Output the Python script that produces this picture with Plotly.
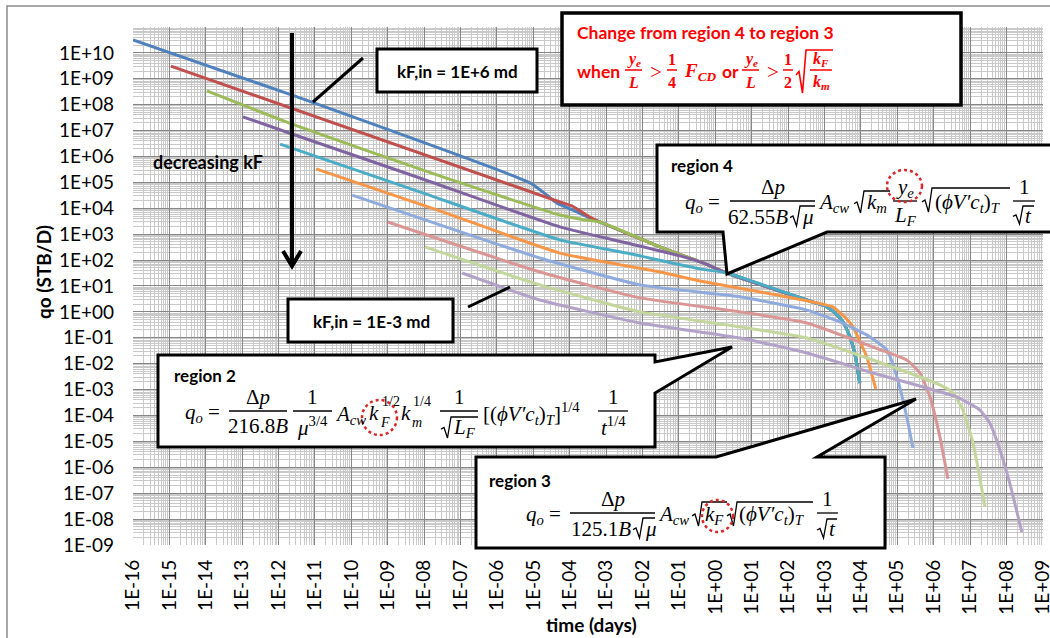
import plotly.graph_objects as go

# ---------------------------------------------------------------------------
# Oil rate qo (STB/D) versus time (days), one curve per initial fracture
# permeability kF,in (md).
# ---------------------------------------------------------------------------
kf_in = ["1E+6", "1E+5", "1E+4", "1E+3", "1E+2", "1E+1", "1E+0", "1E-1", "1E-2", "1E-3"]

t_kf_1e6 = [1.0e-16, 3.24e-12, 8.13e-6, 2.34e-5, 4.47e-5, 1.23e-4, 3.16e-4, 6.8e-4, 3.0e-2, 0.457, 2.09,
            479, 1023, 1950, 3236, 5012, 6918, 9333]
q_kf_1e6 = [3.16e10, 2.0e8, 9.55e4, 3.24e4, 1.58e4, 8.51e3, 4.57e3, 2950, 324, 77.6, 31.6,
            2.40, 1.70, 0.912, 0.407, 0.107, 0.0219, 1.78e-3]

t_kf_1e5 = [1.10e-15, 5.37e-5, 1.15e-4, 3.16e-4, 6.8e-4, 3.0e-2, 0.457, 2.09,
            479, 1023, 1950, 3236, 5012, 6918, 9333]
q_kf_1e5 = [3.09e9, 1.74e4, 1.23e4, 5.01e3, 2950, 324, 77.6, 31.6,
            2.40, 1.70, 0.912, 0.407, 0.107, 0.0219, 1.78e-3]

t_kf_1e4 = [1.07e-14, 2.34e-12, 2.69e-8, 5.37e-5, 2.63e-4, 6.8e-4, 3.0e-2, 0.457, 2.09,
            479, 1023, 1950, 3236, 5012, 6918, 9333]
q_kf_1e4 = [3.39e8, 1.78e7, 1.78e5, 5.50e3, 3.55e3, 2950, 324, 77.6, 31.6,
            2.40, 1.70, 0.912, 0.407, 0.107, 0.0219, 1.78e-3]

t_kf_1e3 = [1.05e-13, 2.34e-12, 7.59e-9, 5.37e-5, 3.72e-3, 0.107, 0.457, 2.09,
            479, 1023, 1950, 3236, 5012, 6918, 9333]
q_kf_1e3 = [3.39e7, 7.41e6, 1.48e5, 1.91e3, 457, 145, 77.6, 31.6,
            2.40, 1.70, 0.912, 0.407, 0.107, 0.0219, 1.78e-3]

t_kf_1e2 = [1.10e-12, 7.59e-9, 5.37e-5, 3.72e-3, 0.380, 2.09,
            479, 1023, 1950, 3236, 5012, 6918, 9333]
q_kf_1e2 = [3.02e6, 4.27e4, 603, 186, 45.7, 31.6,
            2.40, 1.70, 0.912, 0.407, 0.107, 0.0219, 1.78e-3]

t_kf_1e1 = [1.07e-11, 2.69e-8, 5.37e-5, 3.02e-2, 0.380, 17.0, 479, 1698, 3631, 6026, 14454, 25704]
q_kf_1e1 = [3.31e5, 7.94e3, 186, 34.7, 15.5, 5.89, 2.40, 1.55, 0.631, 0.263, 0.0182, 1.05e-3]

t_kf_1e0 = [1.05e-10, 1.51e-5, 8.51e-3, 4.79, 331, 2630, 14454, 51286, 97724, 1.82e5, 2.69e5]
q_kf_1e0 = [3.24e4, 120, 11.0, 3.80, 1.17, 0.407, 0.129, 0.0339, 3.09e-3, 8.71e-5, 5.50e-6]

t_kf_1em1 = [1.0e-9, 1.51e-5, 8.51e-3, 4.79, 331, 21380, 1.82e5, 4.17e5, 7.94e5, 1.48e6, 2.45e6]
q_kf_1em1 = [2950, 34.7, 3.47, 1.00, 0.372, 0.0437, 0.0138, 4.37e-3, 5.13e-4, 1.48e-5, 3.55e-7]

t_kf_1em2 = [1.05e-8, 1.51e-5, 8.51e-3, 4.79, 331, 21380, 1.48e6, 3.39e6, 6.31e6, 1.20e7, 2.57e7]
q_kf_1em2 = [324, 11.0, 1.00, 0.263, 0.0977, 0.0138, 1.51e-3, 7.41e-4, 1.62e-4, 8.71e-6, 2.95e-8]

t_kf_1em3 = [1.10e-7, 1.51e-5, 8.51e-3, 4.79, 331, 21380, 4.37e6, 1.86e7, 3.47e7, 6.61e7, 1.23e8, 2.63e8]
q_kf_1em3 = [31.6, 2.88, 0.372, 0.0977, 0.0257, 4.37e-3, 5.13e-4, 1.62e-4, 5.13e-5, 4.68e-6, 2.45e-7, 3.16e-9]

times = [t_kf_1e6, t_kf_1e5, t_kf_1e4, t_kf_1e3, t_kf_1e2, t_kf_1e1, t_kf_1e0, t_kf_1em1, t_kf_1em2, t_kf_1em3]
rates = [q_kf_1e6, q_kf_1e5, q_kf_1e4, q_kf_1e3, q_kf_1e2, q_kf_1e1, q_kf_1e0, q_kf_1em1, q_kf_1em2, q_kf_1em3]

colors = ["#4F81BD", "#C0504D", "#9BBB59", "#8064A2", "#4BACC6", "#F79646",
          "#8FAADC", "#D99694", "#C3D69B", "#B3A2C7"]

x_ticktext = ["1E-16", "1E-15", "1E-14", "1E-13", "1E-12", "1E-11", "1E-10", "1E-09", "1E-08",
              "1E-07", "1E-06", "1E-05", "1E-04", "1E-03", "1E-02", "1E-01", "1E+00", "1E+01",
              "1E+02", "1E+03", "1E+04", "1E+05", "1E+06", "1E+07", "1E+08", "1E+09"]
y_ticktext = ["1E-09", "1E-08", "1E-07", "1E-06", "1E-05", "1E-04", "1E-03", "1E-02", "1E-01",
              "1E+00", "1E+01", "1E+02", "1E+03", "1E+04", "1E+05", "1E+06", "1E+07", "1E+08",
              "1E+09", "1E+10"]

SANS = "Lato"
SERIF = "Liberation Serif"
RED = "#FF0000"
DOT_RED = "#D8272A"

fig = go.Figure()
for name, t, q, c in zip(kf_in, times, rates, colors):
    fig.add_trace(go.Scatter(x=t, y=q, mode="lines", name="kF,in = " + name + " md",
                             line=dict(color=c, width=3, shape="spline", smoothing=0.45)))

# ---------------------------------------------------------------------------
# Page-pixel helpers for the call-outs (plot area: 133..1043 x 27..545)
# ---------------------------------------------------------------------------
PL, PT, PW, PH = 133, 27, 910, 518


def X(px):
    return (px - PL) / PW


def Y(py):
    return (PT + PH - py) / PH


shapes = []
anns = []


def txt(x, y, s, size=20, color="black", family=SERIF, xanchor="left", angle=0):
    anns.append(dict(x=X(x), y=Y(y), xref="paper", yref="paper", text=s, showarrow=False,
                     xanchor=xanchor, yanchor="middle", textangle=angle,
                     font=dict(family=family, size=size, color=color)))


def seg(x0, y0, x1, y1, color="black", width=3):
    shapes.append(dict(type="line", xref="paper", yref="paper", x0=X(x0), y0=Y(y0),
                       x1=X(x1), y1=Y(y1), line=dict(color=color, width=width), layer="above"))


def poly(pts, color="black", width=3, fill=None, closed=False):
    d = "M " + " L ".join(f"{X(a):.5f},{Y(b):.5f}" for a, b in pts)
    if closed:
        d += " Z"
    shapes.append(dict(type="path", xref="paper", yref="paper", path=d,
                       line=dict(color=color, width=width),
                       fillcolor=fill if fill else "rgba(0,0,0,0)", layer="above"))


def box(x0, y0, x1, y1, width=3):
    shapes.append(dict(type="rect", xref="paper", yref="paper", x0=X(x0), y0=Y(y0),
                       x1=X(x1), y1=Y(y1), line=dict(color="black", width=width),
                       fillcolor="white", layer="above"))


def radical(x0, x1, ytop, ybot, color="black", width=1.3):
    h = ybot - ytop
    poly([(x0, ybot - 0.42 * h), (x0 + 3, ybot - 0.5 * h), (x0 + 6.5, ybot),
          (x0 + 10, ytop), (x1, ytop)], color=color, width=width)


def frac(x0, x1, yb, num, den=None, size=20, color="black", dn=14, dd=15, bar=1.3):
    seg(x0, yb, x1, yb, color=color, width=bar)
    txt((x0 + x1) / 2, yb - dn, num, size, color, xanchor="center")
    if den is not None:
        txt((x0 + x1) / 2, yb + dd, den, size, color, xanchor="center")


def ring(x0, y0, x1, y1):
    shapes.append(dict(type="circle", xref="paper", yref="paper", x0=X(x0), y0=Y(y0),
                       x1=X(x1), y1=Y(y1), line=dict(color=DOT_RED, width=2.5, dash="dot"),
                       layer="above"))


# outer chart frame
shapes.append(dict(type="rect", xref="paper", yref="paper", x0=X(7), y0=Y(6), x1=X(1080),
                   y1=Y(680), line=dict(color="#8A8A8A", width=1.5), layer="below"))

# decreasing-kF arrow
seg(292, 33, 292, 265, width=4)
poly([(283, 251), (292, 266), (301, 251)], width=4)
txt(151, 162, "<b>decreasing kF</b>", 18, family=SANS)

# kF,in labels with leader lines
seg(363, 58, 313, 102, width=3)
box(377, 49, 537, 92)
txt(457, 71, "<b>kF,in = 1E+6 md</b>", 17, family=SANS, xanchor="center")
seg(468, 307, 510, 287, width=3)
box(288, 299, 453, 342)
txt(371, 321, "<b>kF,in = 1E-3 md</b>", 17, family=SANS, xanchor="center")

# ---- region 4 -> 3 criterion
box(562, 13, 961, 105, width=3.5)
txt(575, 33, "<b>Change from region 4 to region 3</b>", 17.5, RED, SANS)
txt(575, 71, "<b>when</b>", 17.5, RED, SANS)
frac(625, 642, 70, "<b><i>y</i><sub><i>e</i></sub></b>", "<b><i>L</i></b>", 16, RED, 10, 12, 1.5)
txt(648, 72, "&gt;", 21, RED)
frac(667, 677, 70, "<b>1</b>", "<b>4</b>", 16, RED, 10, 12, 1.5)
txt(682, 72, "<b><i>F</i><sub><i>CD</i></sub></b>", 19, RED)
txt(720, 71, "<b>or</b>", 17.5, RED, SANS)
frac(742, 759, 70, "<b><i>y</i><sub><i>e</i></sub></b>", "<b><i>L</i></b>", 16, RED, 10, 12, 1.5)
txt(765, 72, "&gt;", 21, RED)
frac(783, 793, 70, "<b>1</b>", "<b>2</b>", 16, RED, 10, 12, 1.5)
radical(796, 833, 50, 93, color=RED, width=1.6)
frac(810, 832, 70, "<b><i>k</i><sub><i>F</i></sub></b>", "<b><i>k</i><sub><i>m</i></sub></b>",
     16, RED, 10, 12, 1.5)

# ---- region 4 call-out
poly([(657, 145), (1060, 145), (1060, 232), (827, 232), (727, 274), (723, 232), (657, 232)],
     width=3, fill="white", closed=True)
txt(669, 165, "<b>region 4</b>", 17, family=SANS)
txt(683, 203, "<i>q</i><sub><i>o</i></sub> =", 21)
frac(730, 815, 201, "Δ<i>p</i>", size=21)
txt(790, 217, "62.55<i>B</i>", 21, xanchor="right")
radical(790, 815, 206, 226)
txt(800, 217, "<i>μ</i>", 21)
txt(816, 203, "<i>A</i><sub><i>cw</i></sub>", 21)
radical(854, 890, 191, 213)
txt(865, 203, "<i>k</i><sub><i>m</i></sub>", 21)
frac(893, 917, 201, "<i>y</i><sub><i>e</i></sub>", "<i>L</i><sub><i>F</i></sub>", 21, dn=13, dd=15)
radical(922, 1010, 188, 212)
txt(933, 203, "(<i>ϕV′c</i><sub><i>t</i></sub>)<sub><i>T</i></sub>", 21)
frac(1013, 1035, 201, "1", size=21)
radical(1013, 1034, 206, 224)
txt(1023, 216, "<i>t</i>", 21)
ring(887, 170, 922, 202)

# ---- region 2 call-out
poly([(158, 355), (655, 355), (655, 362), (732, 347), (655, 393), (655, 447), (158, 447)],
     width=3, fill="white", closed=True)
txt(172, 375, "<b>region 2</b>", 17, family=SANS)
txt(183, 413, "<i>q</i><sub><i>o</i></sub> =", 21)
frac(229, 287, 411, "Δ<i>p</i>", "216.8<i>B</i>", 21)
frac(293, 332, 411, "1", "<i>μ</i><sup>3/4</sup>", 21)
txt(333, 415, "<i>A</i><sub><i>cw</i></sub>", 21)
txt(367, 413, "<i>k</i>", 21)
txt(378, 422, "<i>F</i>", 14)
txt(380, 401, "1/2", 14)
txt(399, 413, "<i>k</i>", 21)
txt(410, 422, "<i>m</i>", 14)
txt(411, 401, "1/4", 14)
frac(440, 478, 411, "1", size=21)
radical(441, 478, 417, 438)
txt(451, 428, "<i>L</i><sub><i>F</i></sub>", 21)
txt(481, 413, "[(<i>ϕV′c</i><sub><i>t</i></sub>)<sub><i>T</i></sub>]<sup>1/4</sup>", 21)
frac(598, 628, 411, "1", "<i>t</i><sup>1/4</sup>", 21)
ring(362, 400, 397, 435)

# ---- region 3 call-out
poly([(476, 457), (716, 457), (916, 399), (817, 457), (885, 457), (885, 548), (476, 548)],
     width=3, fill="white", closed=True)
txt(487, 480, "<b>region 3</b>", 17, family=SANS)
txt(524, 515, "<i>q</i><sub><i>o</i></sub> =", 21)
frac(570, 655, 513, "Δ<i>p</i>", size=21)
txt(633, 529, "125.1<i>B</i>", 21, xanchor="right")
radical(633, 655, 518, 538)
txt(643, 529, "<i>μ</i>", 21)
txt(656, 515, "<i>A</i><sub><i>cw</i></sub>", 21)
radical(692, 727, 502, 526)
txt(703, 515, "<i>k</i><sub><i>F</i></sub>", 21)
radical(727, 813, 502, 526)
txt(737, 515, "(<i>ϕV′c</i><sub><i>t</i></sub>)<sub><i>T</i></sub>", 21)
frac(817, 838, 513, "1", size=21)
radical(817, 837, 519, 538)
txt(827, 529, "<i>t</i>", 21)
ring(702, 500, 733, 532)

# axis titles
txt(43, 272, "<b>qo (STB/D)</b>", 19, family=SANS, xanchor="center", angle=-90)
txt(591, 624, "<b>time (days)</b>", 19, family=SANS, xanchor="center")

axis_common = dict(type="log", showline=False, zeroline=False, ticks="", automargin=False,
                   gridcolor="#878787", gridwidth=1, ticklabeloverflow="allow",
                   tickfont=dict(family=SANS, size=19, color="black"),
                   minor=dict(showgrid=True, dtick="D1", gridcolor="#C9C9C9", gridwidth=1))

fig.update_layout(
    width=1050, height=638,
    margin=dict(l=PL, r=1050 - PL - PW, t=PT, b=638 - PT - PH, autoexpand=False),
    paper_bgcolor="white", plot_bgcolor="white",
    showlegend=False,
    xaxis=dict(axis_common, range=[-16, 9.003], tickmode="array",
               tickvals=[float(s) for s in x_ticktext], ticktext=x_ticktext,
               tickangle=-90, ticklabelstandoff=10),
    yaxis=dict(axis_common, range=[-9.003, 11], tickmode="array",
               tickvals=[float(s) for s in y_ticktext], ticktext=y_ticktext,
               ticklabelstandoff=18),
    shapes=shapes,
    annotations=anns,
)

fig.write_html("out.html")
